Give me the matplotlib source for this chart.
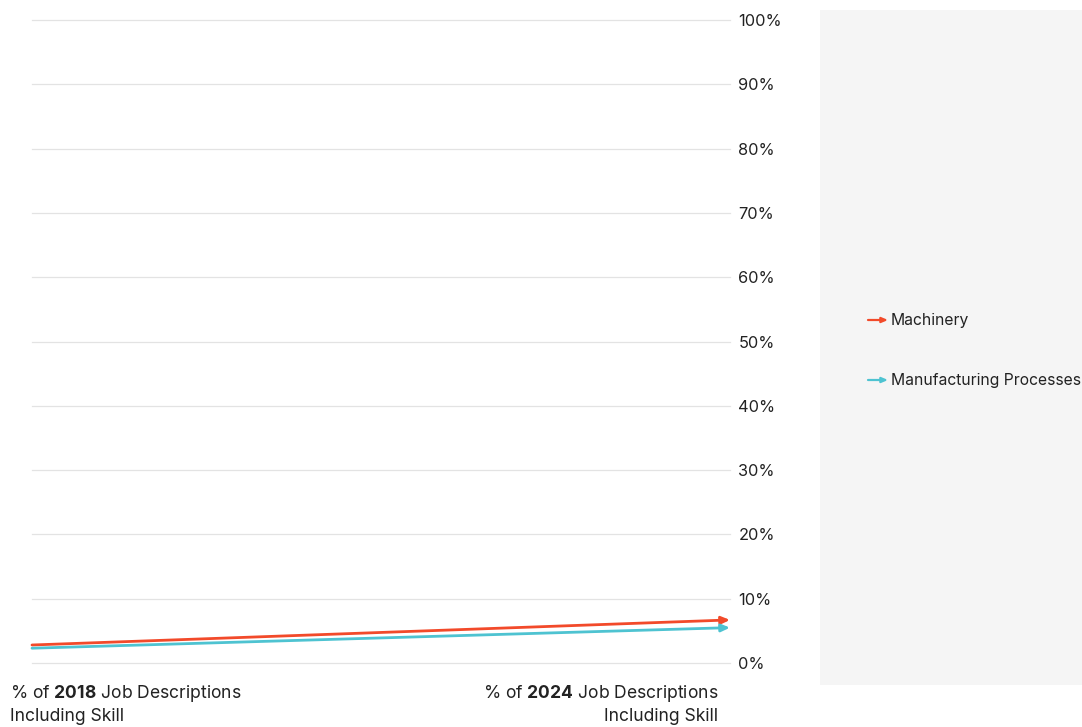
import matplotlib
matplotlib.use("Agg")
import matplotlib.pyplot as plt

# Data
categories = ["% of 2018 Job Descriptions Including Skill", "% of 2024 Job Descriptions Including Skill"]
series_names = ["Machinery", "Manufacturing Processes"]
machinery = [2.8, 6.7]
manufacturing = [2.3, 5.5]
yticks = [0, 10, 20, 30, 40, 50, 60, 70, 80, 90, 100]
ytick_labels = [f"{v}%" for v in yticks]
colors = ["#f24a2a", "#4ec3d1"]

plt.rcParams['font.family'] = ['Inter', 'DejaVu Sans']
plt.rcParams['mathtext.fontset'] = 'custom'
plt.rcParams['mathtext.rm'] = 'Inter'
plt.rcParams['mathtext.bf'] = 'Inter:bold'

W, H = 1082, 727
fig = plt.figure(figsize=(W/100, H/100), dpi=100)
fig.patch.set_facecolor("white")

ax = fig.add_axes([32/W, 1-663/H, (730-32)/W, (663-20)/H])
ax.set_xlim(0, 1)
ax.set_ylim(0, 100)
ax.set_yticks(yticks)
ax.set_yticklabels(ytick_labels)
ax.yaxis.tick_right()
ax.tick_params(axis='y', length=0, pad=6, labelsize=11.8, labelcolor="#222222")
ax.set_xticks([])
for s in ax.spines.values():
    s.set_visible(False)
ax.grid(axis='y', color="#e3e3e3", linewidth=0.9)
ax.set_axisbelow(True)
for gl in ax.get_ygridlines():
    gl.set_clip_on(False)

for vals, c in zip([machinery, manufacturing], colors):
    ax.annotate("", xy=(1, vals[1]), xytext=(0, vals[0]), xycoords='data', textcoords='data',
                arrowprops=dict(arrowstyle="-|>,head_length=0.5,head_width=0.22", color=c, lw=2.0,
                                shrinkA=0, shrinkB=0), annotation_clip=False)

# x category labels
fig.text(10/W, 1-704/H, r"% of $\mathbf{2018}$ Job Descriptions" + "\nIncluding Skill",
         ha='left', va='center', fontsize=12.6, color="#222222", linespacing=1.25, multialignment='left')
fig.text(718/W, 1-704/H, r"% of $\mathbf{2024}$ Job Descriptions" + "\nIncluding Skill",
         ha='right', va='center', fontsize=12.6, color="#222222", linespacing=1.25, multialignment='right')

# legend panel
lax = fig.add_axes([820/W, 1-685/H, (W-820)/W, (685-10)/H])
lax.set_facecolor("#f5f5f5")
lax.set_xlim(0, W-820)
lax.set_ylim(685, 10)
lax.set_xticks([]); lax.set_yticks([])
for s in lax.spines.values():
    s.set_visible(False)
for i, (name, c) in enumerate(zip(series_names, colors)):
    y = 320 + 60*i
    lax.annotate("", xy=(888-820, y), xytext=(868-820, y),
                 arrowprops=dict(arrowstyle="-|>,head_length=0.35,head_width=0.15", color=c, lw=1.6,
                                 shrinkA=0, shrinkB=0))
    lax.text(891-820, y, name, ha='left', va='center', fontsize=11.3, color="#222222")

fig.savefig("out.png", dpi=100)
